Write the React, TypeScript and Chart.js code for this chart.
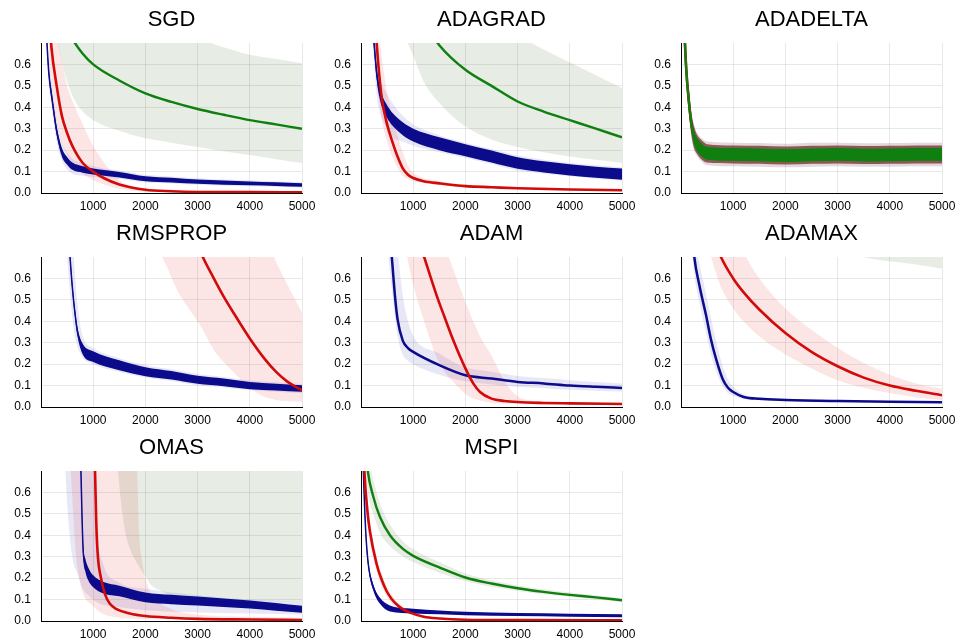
import { useEffect, useRef } from "react";
import { Chart, registerables } from "chart.js";
Chart.register(...registerables);

const FONT = '"Liberation Sans", Arial, Helvetica, sans-serif';
const X_TICKS = [1000, 2000, 3000, 4000, 5000];
const Y_TICKS = [0, 0.1, 0.2, 0.3, 0.4, 0.5, 0.6];
const X_MIN = 0, X_MAX = 5000, Y_MIN = 0, Y_MAX = 0.7;

const BLUE = "#0b0b8c";
const RED = "#d20a0a";
const GREEN = "#0f7f0f";
const BLUE_BAND = "rgba(40,40,170,0.11)";
const RED_BAND = "rgba(230,40,40,0.12)";
const GREEN_BAND = "rgba(60,110,30,0.12)";

// ---------- SGD ----------
const SGD_BLUE_X = [100, 150, 200, 250, 300, 400, 500, 600, 800, 1000, 1500, 2000, 2500, 3000, 3500, 4000, 4500, 5000];
const SGD_BLUE_MEAN = [0.76, 0.56, 0.46, 0.37, 0.29, 0.19, 0.15, 0.125, 0.11, 0.1, 0.085, 0.066, 0.06, 0.053, 0.048, 0.045, 0.041, 0.037];
const SGD_BLUE_NHI = [0.78, 0.58, 0.48, 0.39, 0.31, 0.21, 0.168, 0.142, 0.125, 0.114, 0.098, 0.078, 0.071, 0.063, 0.058, 0.054, 0.05, 0.046];
const SGD_BLUE_NLO = [0.74, 0.54, 0.44, 0.35, 0.27, 0.17, 0.132, 0.108, 0.095, 0.086, 0.072, 0.055, 0.049, 0.043, 0.039, 0.036, 0.033, 0.029];
const SGD_BLUE_HI = [0.82, 0.62, 0.51, 0.42, 0.34, 0.24, 0.19, 0.16, 0.14, 0.125, 0.105, 0.085, 0.077, 0.069, 0.063, 0.059, 0.055, 0.05];
const SGD_BLUE_LO = [0.7, 0.5, 0.41, 0.32, 0.24, 0.15, 0.11, 0.09, 0.08, 0.075, 0.065, 0.049, 0.044, 0.038, 0.034, 0.031, 0.028, 0.025];
const SGD_RED_X = [150, 200, 300, 400, 500, 600, 800, 1000, 1200, 1500, 2000, 2500, 3000, 4000, 5000];
const SGD_RED_MEAN = [0.85, 0.68, 0.5, 0.36, 0.28, 0.22, 0.14, 0.1, 0.07, 0.04, 0.015, 0.008, 0.005, 0.004, 0.003];
const SGD_RED_HI = [1.2, 1.0, 0.75, 0.62, 0.5, 0.43, 0.32, 0.22, 0.145, 0.06, 0.02, 0.01, 0.007, 0.005, 0.004];
const SGD_RED_LO = [0.6, 0.5, 0.33, 0.24, 0.18, 0.14, 0.09, 0.06, 0.04, 0.02, 0.006, 0.004, 0.003, 0.002, 0.002];
const SGD_GREEN_X = [300, 500, 650, 800, 1000, 1500, 2000, 2500, 3000, 3500, 4000, 4500, 5000];
const SGD_GREEN_MEAN = [0.88, 0.76, 0.7, 0.65, 0.6, 0.525, 0.465, 0.425, 0.392, 0.365, 0.34, 0.32, 0.3];
const SGD_GREEN_HI = [1.5, 1.3, 1.2, 1.1, 1.0, 0.9, 0.82, 0.76, 0.72, 0.68, 0.645, 0.625, 0.606];
const SGD_GREEN_LO = [0.72, 0.52, 0.43, 0.38, 0.34, 0.29, 0.255, 0.235, 0.215, 0.195, 0.177, 0.158, 0.14];

// ---------- ADAGRAD ----------
const ADAGRAD_BLUE_X = [200, 250, 300, 350, 400, 500, 600, 800, 1000, 1500, 2000, 2500, 3000, 3500, 4000, 4500, 5000];
const ADAGRAD_BLUE_MEAN = [0.85, 0.7, 0.56, 0.48, 0.43, 0.38, 0.345, 0.3, 0.27, 0.23, 0.2, 0.17, 0.14, 0.122, 0.108, 0.097, 0.088];
const ADAGRAD_BLUE_NHI = [0.88, 0.73, 0.59, 0.51, 0.46, 0.41, 0.375, 0.33, 0.3, 0.26, 0.228, 0.198, 0.167, 0.148, 0.134, 0.123, 0.114];
const ADAGRAD_BLUE_NLO = [0.82, 0.67, 0.53, 0.45, 0.4, 0.35, 0.315, 0.27, 0.24, 0.2, 0.172, 0.142, 0.113, 0.096, 0.082, 0.071, 0.062];
const ADAGRAD_BLUE_HI = [0.92, 0.78, 0.64, 0.55, 0.51, 0.46, 0.42, 0.36, 0.32, 0.27, 0.235, 0.205, 0.175, 0.155, 0.14, 0.13, 0.12];
const ADAGRAD_BLUE_LO = [0.78, 0.62, 0.46, 0.39, 0.35, 0.3, 0.26, 0.24, 0.22, 0.19, 0.165, 0.135, 0.105, 0.09, 0.078, 0.067, 0.058];
const ADAGRAD_RED_X = [250, 300, 350, 400, 500, 600, 700, 800, 900, 1000, 1200, 1500, 2000, 2500, 3000, 4000, 5000];
const ADAGRAD_RED_MEAN = [0.9, 0.7, 0.55, 0.44, 0.32, 0.24, 0.17, 0.115, 0.085, 0.07, 0.055, 0.045, 0.032, 0.027, 0.022, 0.016, 0.013];
const ADAGRAD_RED_HI = [1.1, 0.9, 0.75, 0.63, 0.47, 0.36, 0.27, 0.19, 0.13, 0.095, 0.07, 0.055, 0.038, 0.031, 0.025, 0.018, 0.015];
const ADAGRAD_RED_LO = [0.75, 0.56, 0.43, 0.34, 0.24, 0.17, 0.12, 0.08, 0.065, 0.055, 0.045, 0.037, 0.027, 0.023, 0.019, 0.014, 0.011];
const ADAGRAD_GREEN_X = [800, 1000, 1200, 1500, 2000, 2500, 3000, 3500, 4000, 4500, 5000];
const ADAGRAD_GREEN_MEAN = [1.0, 0.9, 0.8, 0.69, 0.575, 0.5, 0.427, 0.38, 0.34, 0.3, 0.26];
const ADAGRAD_GREEN_HI = [1.5, 1.4, 1.3, 1.2, 1.0, 0.85, 0.74, 0.67, 0.61, 0.55, 0.49];
const ADAGRAD_GREEN_LO = [0.75, 0.64, 0.52, 0.42, 0.31, 0.25, 0.215, 0.19, 0.17, 0.155, 0.14];

// ---------- ADADELTA ----------
const ADADELTA_X = [0, 50, 100, 150, 200, 250, 300, 400, 500, 1000, 1500, 2000, 2500, 3000, 3500, 4000, 4500, 5000];
const ADADELTA_MEAN = [1.2, 0.85, 0.58, 0.43, 0.32, 0.26, 0.23, 0.2, 0.185, 0.18, 0.178, 0.175, 0.178, 0.18, 0.177, 0.178, 0.18, 0.18];
const ADADELTA_GREEN_NHI = [1.23, 0.88, 0.61, 0.46, 0.35, 0.29, 0.26, 0.23, 0.215, 0.21, 0.208, 0.205, 0.208, 0.21, 0.207, 0.208, 0.21, 0.21];
const ADADELTA_GREEN_NLO = [1.17, 0.82, 0.55, 0.4, 0.29, 0.23, 0.2, 0.17, 0.155, 0.15, 0.148, 0.145, 0.148, 0.15, 0.147, 0.148, 0.15, 0.15];
const ADADELTA_RED_NHI = [1.25, 0.9, 0.63, 0.48, 0.37, 0.31, 0.275, 0.245, 0.228, 0.222, 0.22, 0.217, 0.22, 0.222, 0.219, 0.22, 0.222, 0.222];
const ADADELTA_RED_NLO = [1.15, 0.8, 0.53, 0.38, 0.27, 0.21, 0.185, 0.155, 0.142, 0.138, 0.136, 0.133, 0.136, 0.138, 0.135, 0.136, 0.138, 0.138];
const ADADELTA_HI = [1.26, 0.91, 0.64, 0.49, 0.38, 0.32, 0.285, 0.255, 0.24, 0.235, 0.233, 0.23, 0.235, 0.235, 0.232, 0.233, 0.235, 0.235];
const ADADELTA_LO = [1.14, 0.79, 0.52, 0.37, 0.26, 0.2, 0.175, 0.145, 0.13, 0.125, 0.123, 0.12, 0.123, 0.125, 0.122, 0.123, 0.125, 0.125];

// ---------- RMSPROP ----------
const RMSPROP_BLUE_X = [400, 500, 550, 600, 650, 700, 800, 1000, 1500, 2000, 2500, 3000, 3500, 4000, 4500, 5000];
const RMSPROP_BLUE_MEAN = [1.2, 0.9, 0.72, 0.56, 0.44, 0.35, 0.27, 0.235, 0.195, 0.165, 0.148, 0.127, 0.115, 0.1, 0.093, 0.086];
const RMSPROP_BLUE_NHI = [1.22, 0.92, 0.74, 0.58, 0.46, 0.37, 0.295, 0.26, 0.218, 0.186, 0.168, 0.146, 0.133, 0.117, 0.109, 0.101];
const RMSPROP_BLUE_NLO = [1.18, 0.88, 0.7, 0.54, 0.42, 0.33, 0.245, 0.21, 0.172, 0.144, 0.128, 0.108, 0.097, 0.083, 0.077, 0.071];
const RMSPROP_BLUE_HI = [1.5, 1.2, 1.0, 0.8, 0.62, 0.48, 0.33, 0.275, 0.228, 0.195, 0.176, 0.154, 0.14, 0.124, 0.115, 0.107];
const RMSPROP_BLUE_LO = [0.95, 0.7, 0.55, 0.42, 0.33, 0.28, 0.23, 0.2, 0.165, 0.138, 0.121, 0.101, 0.091, 0.078, 0.071, 0.064];
const RMSPROP_RED_X = [2200, 2400, 2600, 2800, 3000, 3100, 3300, 3500, 3700, 4000, 4300, 4500, 4700, 4850, 5000];
const RMSPROP_RED_MEAN = [1.3, 1.15, 1.02, 0.89, 0.76, 0.7, 0.605, 0.515, 0.435, 0.32, 0.22, 0.165, 0.122, 0.098, 0.078];
const RMSPROP_RED_HI = [2.0, 1.9, 1.8, 1.7, 1.5, 1.4, 1.25, 1.15, 1.05, 0.92, 0.79, 0.68, 0.58, 0.51, 0.44];
const RMSPROP_RED_LO = [0.76, 0.66, 0.55, 0.47, 0.4, 0.36, 0.27, 0.21, 0.16, 0.09, 0.045, 0.033, 0.028, 0.026, 0.025];

// ---------- ADAM ----------
const ADAM_BLUE_X = [400, 500, 590, 650, 700, 800, 900, 1000, 1500, 2000, 2500, 3000, 3500, 4000, 4500, 5000];
const ADAM_BLUE_MEAN = [1.2, 0.95, 0.7, 0.52, 0.41, 0.31, 0.275, 0.257, 0.195, 0.148, 0.133, 0.117, 0.11, 0.1, 0.094, 0.089];
const ADAM_BLUE_HI = [1.5, 1.3, 1.05, 0.85, 0.74, 0.52, 0.4, 0.33, 0.25, 0.185, 0.165, 0.145, 0.135, 0.125, 0.117, 0.11];
const ADAM_BLUE_LO = [0.9, 0.75, 0.55, 0.42, 0.33, 0.245, 0.215, 0.2, 0.15, 0.12, 0.105, 0.095, 0.088, 0.08, 0.076, 0.072];
const ADAM_RED_X = [800, 1000, 1210, 1450, 1600, 1770, 2000, 2150, 2280, 2500, 2750, 3000, 3500, 4000, 5000];
const ADAM_RED_MEAN = [1.0, 0.86, 0.7, 0.52, 0.42, 0.31, 0.18, 0.11, 0.07, 0.039, 0.028, 0.023, 0.019, 0.017, 0.014];
const ADAM_RED_HI = [1.6, 1.4, 1.15, 0.9, 0.76, 0.64, 0.49, 0.4, 0.33, 0.24, 0.12, 0.05, 0.025, 0.02, 0.016];
const ADAM_RED_LO = [0.8, 0.57, 0.4, 0.23, 0.165, 0.117, 0.06, 0.04, 0.03, 0.02, 0.016, 0.014, 0.012, 0.011, 0.01];

// ---------- ADAMAX ----------
const ADAMAX_BLUE_X = [150, 255, 350, 478, 570, 670, 800, 900, 1000, 1200, 1500, 2000, 3000, 4000, 5000];
const ADAMAX_BLUE_MEAN = [1.0, 0.7, 0.57, 0.43, 0.32, 0.226, 0.13, 0.09, 0.07, 0.047, 0.038, 0.033, 0.028, 0.025, 0.022];
const ADAMAX_BLUE_HI = [1.1, 0.8, 0.67, 0.53, 0.42, 0.31, 0.19, 0.13, 0.095, 0.06, 0.045, 0.038, 0.032, 0.028, 0.025];
const ADAMAX_BLUE_LO = [0.9, 0.62, 0.49, 0.35, 0.25, 0.17, 0.095, 0.065, 0.052, 0.037, 0.032, 0.028, 0.024, 0.022, 0.019];
const ADAMAX_RED_X = [400, 575, 765, 1000, 1200, 1500, 2000, 2500, 3000, 3500, 4000, 4500, 5000];
const ADAMAX_RED_MEAN = [0.95, 0.82, 0.7, 0.6, 0.535, 0.455, 0.345, 0.257, 0.19, 0.137, 0.1, 0.076, 0.055];
const ADAMAX_RED_HI = [1.3, 1.1, 0.95, 0.82, 0.72, 0.6, 0.46, 0.36, 0.275, 0.205, 0.15, 0.11, 0.085];
const ADAMAX_RED_LO = [0.85, 0.7, 0.56, 0.46, 0.4, 0.33, 0.245, 0.18, 0.125, 0.09, 0.065, 0.045, 0.032];
const ADAMAX_GREEN_X = [3000, 3500, 4000, 4500, 5000];
const ADAMAX_GREEN_MEAN = [1.2, 1.15, 1.1, 1.05, 1.0];
const ADAMAX_GREEN_HI = [1.6, 1.55, 1.5, 1.45, 1.4];
const ADAMAX_GREEN_LO = [0.75, 0.7, 0.68, 0.665, 0.645];

// ---------- OMAS ----------
const OMAS_BLUE_X = [700, 760, 790, 810, 850, 905, 1000, 1200, 1500, 2000, 2500, 3000, 3500, 4000, 4500, 5000];
const OMAS_BLUE_MEAN = [1.2, 0.75, 0.45, 0.32, 0.26, 0.22, 0.185, 0.155, 0.14, 0.11, 0.1, 0.093, 0.085, 0.077, 0.066, 0.055];
const OMAS_BLUE_NHI = [1.23, 0.78, 0.48, 0.35, 0.29, 0.25, 0.213, 0.182, 0.165, 0.133, 0.122, 0.114, 0.105, 0.096, 0.084, 0.071];
const OMAS_BLUE_NLO = [1.17, 0.72, 0.42, 0.29, 0.23, 0.19, 0.157, 0.128, 0.115, 0.087, 0.078, 0.072, 0.065, 0.058, 0.048, 0.039];
const OMAS_BLUE_BAND_X = [450, 500, 600, 700, 800, 900, 1000, 1050, 1200, 1500, 2000, 3000, 4000, 5000];
const OMAS_BLUE_HI = [1.6, 1.5, 1.4, 1.2, 1.0, 0.85, 0.7, 0.45, 0.26, 0.18, 0.15, 0.12, 0.1, 0.09];
const OMAS_BLUE_LO = [0.8, 0.55, 0.3, 0.22, 0.15, 0.12, 0.1, 0.09, 0.075, 0.065, 0.05, 0.04, 0.035, 0.03];
const OMAS_RED_X = [900, 1000, 1035, 1060, 1090, 1150, 1225, 1320, 1450, 1700, 2000, 2500, 3000, 4000, 5000];
const OMAS_RED_MEAN = [1.6, 1.0, 0.7, 0.45, 0.3, 0.2, 0.125, 0.08, 0.055, 0.035, 0.023, 0.015, 0.01, 0.007, 0.005];
const OMAS_RED_BAND_X = [500, 700, 1000, 1500, 1800, 1840, 1880, 1950, 2050, 2200, 2500, 3000, 4000, 5000];
const OMAS_RED_HI = [2.0, 1.9, 1.6, 1.0, 0.8, 0.7, 0.42, 0.26, 0.16, 0.1, 0.055, 0.03, 0.02, 0.015];
const OMAS_RED_LO = [1.0, 0.25, 0.07, 0.015, 0.01, 0.009, 0.009, 0.008, 0.008, 0.007, 0.006, 0.005, 0.004, 0.003];
const OMAS_GREEN_X = [1400, 1475, 1550, 1610, 1700, 1840, 2000, 2100, 2300, 2600, 3000, 4000, 5000];
const OMAS_GREEN_MEAN = [1.6, 1.55, 1.5, 1.47, 1.43, 1.38, 1.3, 1.28, 1.25, 1.2, 1.15, 1.05, 0.95];
const OMAS_GREEN_HI = [2.5, 2.4, 2.4, 2.3, 2.3, 2.2, 2.0, 2.0, 1.9, 1.8, 1.7, 1.5, 1.3];
const OMAS_GREEN_LO = [0.95, 0.7, 0.52, 0.42, 0.34, 0.27, 0.21, 0.17, 0.14, 0.11, 0.1, 0.095, 0.09];

// ---------- MSPI ----------
const MSPI_GREEN_X = [50, 130, 236, 364, 555, 810, 1000, 1500, 2000, 2500, 3000, 3500, 4000, 4500, 5000];
const MSPI_GREEN_MEAN = [0.92, 0.7, 0.58, 0.485, 0.4, 0.335, 0.304, 0.25, 0.203, 0.175, 0.153, 0.136, 0.122, 0.11, 0.097];
const MSPI_GREEN_HI = [1.05, 0.8, 0.66, 0.55, 0.45, 0.37, 0.335, 0.275, 0.222, 0.19, 0.166, 0.148, 0.133, 0.12, 0.107];
const MSPI_GREEN_LO = [0.8, 0.6, 0.5, 0.41, 0.35, 0.3, 0.275, 0.225, 0.185, 0.16, 0.14, 0.125, 0.112, 0.1, 0.088];
const MSPI_RED_X = [20, 65, 120, 170, 300, 400, 490, 580, 680, 800, 940, 1200, 1500, 2000, 3000, 5000];
const MSPI_RED_MEAN = [1.0, 0.7, 0.52, 0.42, 0.265, 0.19, 0.14, 0.105, 0.078, 0.055, 0.039, 0.02, 0.012, 0.006, 0.004, 0.003];
const MSPI_RED_HI = [1.1, 0.78, 0.58, 0.47, 0.3, 0.22, 0.165, 0.125, 0.095, 0.068, 0.048, 0.026, 0.016, 0.008, 0.005, 0.004];
const MSPI_RED_LO = [0.9, 0.62, 0.46, 0.37, 0.23, 0.16, 0.115, 0.085, 0.062, 0.043, 0.03, 0.015, 0.009, 0.005, 0.003, 0.002];
const MSPI_BLUE_X = [10, 45, 90, 140, 236, 364, 555, 1000, 1500, 2000, 3000, 4000, 5000];
const MSPI_BLUE_MEAN = [1.0, 0.7, 0.42, 0.265, 0.156, 0.094, 0.058, 0.046, 0.04, 0.035, 0.03, 0.027, 0.025];
const MSPI_BLUE_NHI = [1.02, 0.72, 0.44, 0.28, 0.17, 0.108, 0.072, 0.057, 0.049, 0.043, 0.037, 0.034, 0.032];
const MSPI_BLUE_NLO = [0.98, 0.68, 0.4, 0.25, 0.142, 0.08, 0.044, 0.035, 0.031, 0.027, 0.023, 0.02, 0.018];

type Band = { x: number[]; lo: number[]; hi: number[]; color: string; order: number };
type Line = { x: number[]; y: number[]; color: string; width: number; order: number };
type Panel = { title: string; bands: Band[]; lines: Line[] };

const ciB = (x: number[], lo: number[], hi: number[]): Band => ({ x, lo, hi, color: BLUE_BAND, order: 32 });
const ciR = (x: number[], lo: number[], hi: number[]): Band => ({ x, lo, hi, color: RED_BAND, order: 31 });
const ciG = (x: number[], lo: number[], hi: number[]): Band => ({ x, lo, hi, color: GREEN_BAND, order: 30 });
const noiseB = (x: number[], lo: number[], hi: number[]): Band => ({ x, lo, hi, color: BLUE, order: 9 });
const lineB = (x: number[], y: number[], w = 2.5): Line => ({ x, y, color: BLUE, width: w, order: 8 });
const lineR = (x: number[], y: number[]): Line => ({ x, y, color: RED, width: 2.6, order: 6 });
const lineG = (x: number[], y: number[]): Line => ({ x, y, color: GREEN, width: 2.4, order: 4 });

const PANELS: Panel[] = [
  {
    title: "SGD",
    bands: [
      ciB(SGD_BLUE_X, SGD_BLUE_LO, SGD_BLUE_HI),
      ciR(SGD_RED_X, SGD_RED_LO, SGD_RED_HI),
      ciG(SGD_GREEN_X, SGD_GREEN_LO, SGD_GREEN_HI),
      noiseB(SGD_BLUE_X, SGD_BLUE_NLO, SGD_BLUE_NHI),
    ],
    lines: [lineB(SGD_BLUE_X, SGD_BLUE_MEAN, 1.5), lineR(SGD_RED_X, SGD_RED_MEAN), lineG(SGD_GREEN_X, SGD_GREEN_MEAN)],
  },
  {
    title: "ADAGRAD",
    bands: [
      ciB(ADAGRAD_BLUE_X, ADAGRAD_BLUE_LO, ADAGRAD_BLUE_HI),
      ciR(ADAGRAD_RED_X, ADAGRAD_RED_LO, ADAGRAD_RED_HI),
      ciG(ADAGRAD_GREEN_X, ADAGRAD_GREEN_LO, ADAGRAD_GREEN_HI),
      noiseB(ADAGRAD_BLUE_X, ADAGRAD_BLUE_NLO, ADAGRAD_BLUE_NHI),
    ],
    lines: [lineB(ADAGRAD_BLUE_X, ADAGRAD_BLUE_MEAN, 1.5), lineR(ADAGRAD_RED_X, ADAGRAD_RED_MEAN), lineG(ADAGRAD_GREEN_X, ADAGRAD_GREEN_MEAN)],
  },
  {
    title: "ADADELTA",
    bands: [
      { x: ADADELTA_X, lo: ADADELTA_LO, hi: ADADELTA_HI, color: "rgba(130,70,110,0.22)", order: 32 },
      { x: ADADELTA_X, lo: ADADELTA_RED_NLO, hi: ADADELTA_RED_NHI, color: "rgba(105,50,35,0.75)", order: 7 },
      { x: ADADELTA_X, lo: ADADELTA_GREEN_NLO, hi: ADADELTA_GREEN_NHI, color: GREEN, order: 5 },
    ],
    lines: [lineB(ADADELTA_X, ADADELTA_MEAN, 1.5), lineR(ADADELTA_X, ADADELTA_MEAN), lineG(ADADELTA_X, ADADELTA_MEAN)],
  },
  {
    title: "RMSPROP",
    bands: [
      ciB(RMSPROP_BLUE_X, RMSPROP_BLUE_LO, RMSPROP_BLUE_HI),
      ciR(RMSPROP_RED_X, RMSPROP_RED_LO, RMSPROP_RED_HI),
      noiseB(RMSPROP_BLUE_X, RMSPROP_BLUE_NLO, RMSPROP_BLUE_NHI),
    ],
    lines: [lineB(RMSPROP_BLUE_X, RMSPROP_BLUE_MEAN, 1.5), lineR(RMSPROP_RED_X, RMSPROP_RED_MEAN)],
  },
  {
    title: "ADAM",
    bands: [ciB(ADAM_BLUE_X, ADAM_BLUE_LO, ADAM_BLUE_HI), ciR(ADAM_RED_X, ADAM_RED_LO, ADAM_RED_HI)],
    lines: [lineB(ADAM_BLUE_X, ADAM_BLUE_MEAN), lineR(ADAM_RED_X, ADAM_RED_MEAN)],
  },
  {
    title: "ADAMAX",
    bands: [
      ciB(ADAMAX_BLUE_X, ADAMAX_BLUE_LO, ADAMAX_BLUE_HI),
      ciR(ADAMAX_RED_X, ADAMAX_RED_LO, ADAMAX_RED_HI),
      ciG(ADAMAX_GREEN_X, ADAMAX_GREEN_LO, ADAMAX_GREEN_HI),
    ],
    lines: [lineB(ADAMAX_BLUE_X, ADAMAX_BLUE_MEAN), lineR(ADAMAX_RED_X, ADAMAX_RED_MEAN), lineG(ADAMAX_GREEN_X, ADAMAX_GREEN_MEAN)],
  },
  {
    title: "OMAS",
    bands: [
      ciB(OMAS_BLUE_BAND_X, OMAS_BLUE_LO, OMAS_BLUE_HI),
      ciR(OMAS_RED_BAND_X, OMAS_RED_LO, OMAS_RED_HI),
      ciG(OMAS_GREEN_X, OMAS_GREEN_LO, OMAS_GREEN_HI),
      noiseB(OMAS_BLUE_X, OMAS_BLUE_NLO, OMAS_BLUE_NHI),
    ],
    lines: [lineB(OMAS_BLUE_X, OMAS_BLUE_MEAN, 1.5), lineR(OMAS_RED_X, OMAS_RED_MEAN), lineG(OMAS_GREEN_X, OMAS_GREEN_MEAN)],
  },
  {
    title: "MSPI",
    bands: [
      ciR(MSPI_RED_X, MSPI_RED_LO, MSPI_RED_HI),
      ciG(MSPI_GREEN_X, MSPI_GREEN_LO, MSPI_GREEN_HI),
      noiseB(MSPI_BLUE_X, MSPI_BLUE_NLO, MSPI_BLUE_NHI),
    ],
    lines: [lineB(MSPI_BLUE_X, MSPI_BLUE_MEAN, 1.5), lineR(MSPI_RED_X, MSPI_RED_MEAN), lineG(MSPI_GREEN_X, MSPI_GREEN_MEAN)],
  },
];

const pts = (x: number[], y: number[]) => x.map((v, i) => ({ x: v, y: y[i] }));

function buildDatasets(p: Panel): any[] {
  const ds: any[] = [];
  p.bands.forEach((b) => {
    ds.push({
      data: pts(b.x, b.hi), fill: "+1", backgroundColor: b.color, borderColor: "rgba(0,0,0,0)",
      borderWidth: 1, pointRadius: 0, order: b.order, cubicInterpolationMode: "monotone",
    });
    ds.push({
      data: pts(b.x, b.lo), fill: false, borderColor: "rgba(0,0,0,0)",
      borderWidth: 1, pointRadius: 0, order: b.order, cubicInterpolationMode: "monotone",
    });
  });
  p.lines.forEach((l) => {
    ds.push({
      data: pts(l.x, l.y), fill: false, borderColor: l.color, borderWidth: l.width,
      pointRadius: 0, order: l.order, cubicInterpolationMode: "monotone", borderJoinStyle: "round",
    });
  });
  return ds;
}

const GRID = "rgba(0,0,0,0.09)";

function PanelChart({ panel, row, col }: { panel: Panel; row: number; col: number }) {
  const ref = useRef<HTMLCanvasElement | null>(null);
  useEffect(() => {
    if (!ref.current) return;
    const titlePlugin = {
      id: "panelTitle",
      afterDraw(chart: any) {
        const { ctx, chartArea } = chart;
        ctx.save();
        ctx.font = `22px ${FONT}`;
        ctx.fillStyle = "#000";
        ctx.textAlign = "center";
        ctx.textBaseline = "middle";
        ctx.fillText(panel.title, (chartArea.left + chartArea.right) / 2, 20);
        ctx.restore();
      },
    };
    const chart = new Chart(ref.current, {
      type: "line",
      data: { datasets: buildDatasets(panel) },
      options: {
        responsive: false,
        animation: false,
        events: [],
        layout: { padding: { left: 0, right: 20, top: 43, bottom: 0 } },
        plugins: { legend: { display: false }, tooltip: { enabled: false }, title: { display: false } },
        elements: { point: { radius: 0 } },
        scales: {
          x: {
            type: "linear",
            min: X_MIN,
            max: X_MAX,
            afterBuildTicks: (s: any) => { s.ticks = X_TICKS.map((v) => ({ value: v })); },
            afterFit: (s: any) => { s.height = 21; },
            ticks: {
              callback: (v: any) => String(v),
              font: { family: FONT, size: 12 },
              color: "#000",
              padding: 6,
              maxRotation: 0,
              autoSkip: false,
            },
            grid: { color: GRID, drawTicks: false, lineWidth: 1 },
            border: { display: true, color: "#000", width: 1 },
          },
          y: {
            type: "linear",
            min: Y_MIN,
            max: Y_MAX,
            afterBuildTicks: (s: any) => { s.ticks = Y_TICKS.map((v) => ({ value: v })); },
            afterFit: (s: any) => { s.width = 41; },
            ticks: {
              callback: (v: any) => Number(v).toFixed(1),
              font: { family: FONT, size: 12 },
              color: "#000",
              padding: 10,
              autoSkip: false,
            },
            grid: { color: GRID, drawTicks: false, lineWidth: 1 },
            border: { display: true, color: "#000", width: 1 },
          },
        },
      } as any,
      plugins: [titlePlugin],
    });
    return () => chart.destroy();
  }, [panel]);
  return (
    <canvas
      ref={ref}
      width={322}
      height={214}
      style={{ position: "absolute", left: col * 320, top: row * 214, width: 322, height: 214 }}
    />
  );
}

export default function App() {
  return (
    <div style={{ position: "absolute", left: 0, top: 0, width: 962, height: 642, overflow: "hidden", background: "#fff" }}>
      {PANELS.map((p, i) => (
        <PanelChart key={p.title} panel={p} row={Math.floor(i / 3)} col={i % 3} />
      ))}
    </div>
  );
}
